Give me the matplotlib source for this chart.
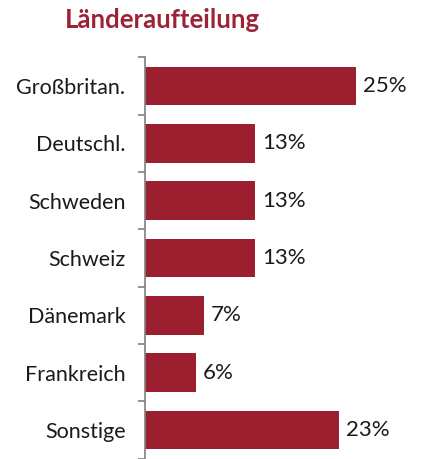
import matplotlib
matplotlib.use("Agg")
import matplotlib.pyplot as plt

categories = ["Großbritan.", "Deutschl.", "Schweden", "Schweiz", "Dänemark", "Frankreich", "Sonstige"]
values = [25, 13, 13, 13, 7, 6, 23]
value_labels = ["25%", "13%", "13%", "13%", "7%", "6%", "23%"]
title = "Länderaufteilung"

bar_color = "#9B1F2F"
title_color = "#9B2335"

plt.rcParams['font.family'] = ['Lato', 'DejaVu Sans']

W, H = 423, 459
fig = plt.figure(figsize=(W/100, H/100), dpi=100)
ax = fig.add_axes([145/W, 0.3/H, (W-145)/W, 401.4/H])

y = list(range(len(categories)))
ax.barh(y, values, height=0.67, color=bar_color)
ax.set_ylim(len(categories)-0.5, -0.5)
ax.set_xlim(0, (W-145)/8.45)

for yi, v, lab in zip(y, values, value_labels):
    ax.annotate(lab, (v, yi), xytext=(5, 0), textcoords="offset points",
                va="center", ha="left", fontsize=16, color="#1a1a1a")

ax.set_yticks(y)
ax.set_yticklabels(categories, fontsize=15.5, color="#1a1a1a")
ax.tick_params(axis="y", which="major", length=0, pad=14)
ax.set_yticks([i - 0.5 for i in range(len(categories)+1)], minor=True)
ax.tick_params(axis="y", which="minor", length=5, width=1.2, color="#808080")
ax.set_xticks([])
for s in ["top", "right", "bottom"]:
    ax.spines[s].set_visible(False)
ax.spines["left"].set_color("#808080")
ax.spines["left"].set_linewidth(1.2)

fig.text(65/W, 1 - 20/H, title, fontsize=18.5, fontweight="bold", color=title_color,
         ha="left", va="center")

fig.savefig("out.png", dpi=100)
